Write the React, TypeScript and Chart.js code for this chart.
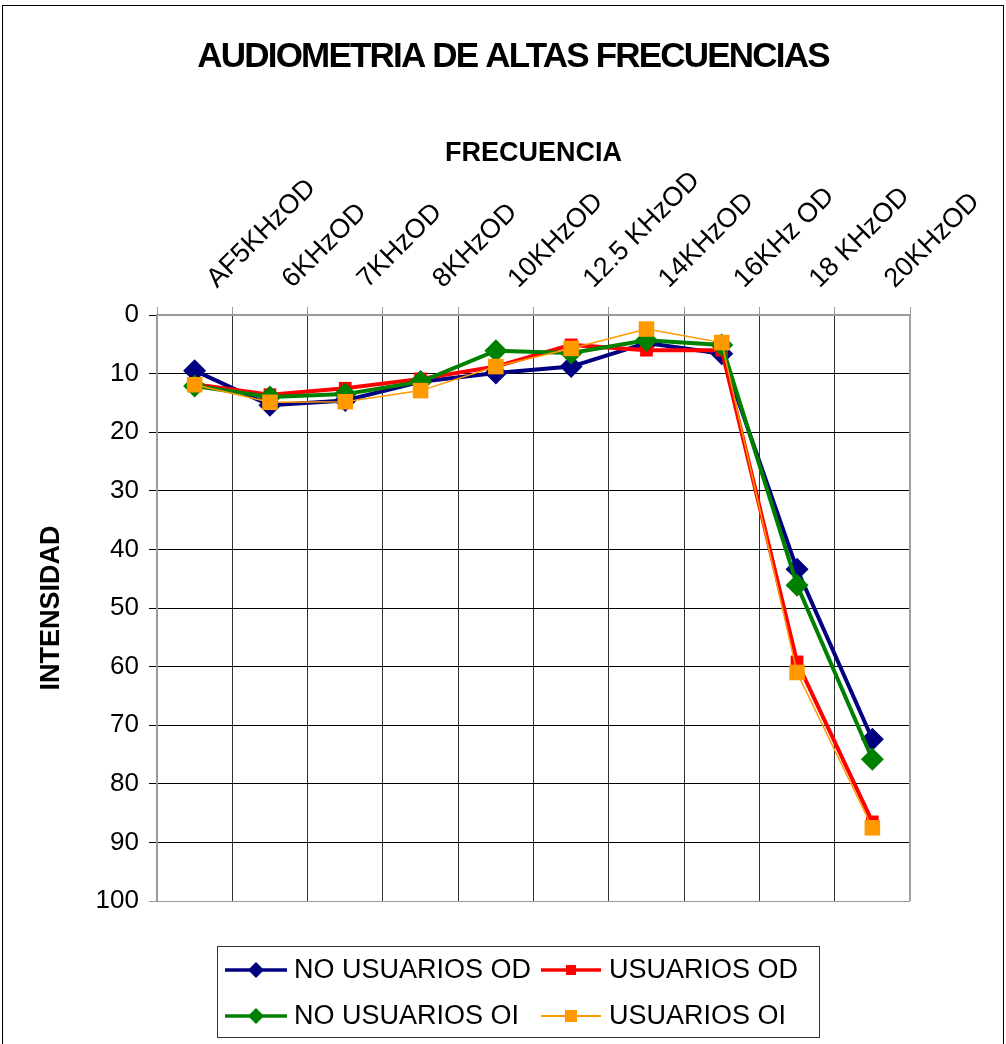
import React, { useEffect, useRef } from 'react';
import { Chart, registerables } from 'chart.js';

Chart.register(...registerables);

// Frecuencias evaluadas (eje X, arriba)
const frecuencias = [
  'AF5KHzOD',
  '6KHzOD',
  '7KHzOD',
  '8KHzOD',
  '10KHzOD',
  '12.5 KHzOD',
  '14KHzOD',
  '16KHz OD',
  '18 KHzOD',
  '20KHzOD',
];

// Umbrales medios (dB) por grupo y oído
const noUsuariosOD = [9.5, 15.4, 14.6, 11.4, 9.9, 8.8, 4.8, 6.6, 43.4, 72.4];
const usuariosOD = [11.8, 13.6, 12.5, 10.9, 8.8, 5.1, 6.0, 6.0, 59.2, 86.5];
const noUsuariosOI = [12.1, 14.0, 13.5, 11.4, 6.1, 6.5, 4.3, 5.1, 46.1, 75.8];
const usuariosOI = [11.9, 14.9, 14.8, 12.9, 8.8, 5.7, 2.4, 4.7, 61.0, 87.5];

// Escala de intensidad
const intensidadMin = 0;
const intensidadMax = 100;
const intensidadPaso = 10;

const TITULO = 'AUDIOMETRIA DE ALTAS FRECUENCIAS';
const FONT = "'Liberation Sans', Arial, Helvetica, sans-serif";

const W = 1006;
const H = 1044;
const PLOT = { left: 157, right: 910, top: 315, bottom: 901 };
const TITLE_SPACE = 90;

type Serie = {
  label: string;
  data: number[];
  color: string;
  width: number;
  style: 'rectRot' | 'rect';
  radius: number;
  legendSize: number;
  order: number;
};

const series: Serie[] = [
  { label: 'NO USUARIOS OD', data: noUsuariosOD, color: '#000080', width: 4, style: 'rectRot', radius: 11.5, legendSize: 8, order: 3 },
  { label: 'USUARIOS OD', data: usuariosOD, color: '#FF0000', width: 4, style: 'rect', radius: 9, legendSize: 5, order: 2 },
  { label: 'NO USUARIOS OI', data: noUsuariosOI, color: '#008000', width: 4, style: 'rectRot', radius: 11.5, legendSize: 8, order: 1 },
  { label: 'USUARIOS OI', data: usuariosOI, color: '#FF9900', width: 1.5, style: 'rect', radius: 11, legendSize: 6, order: 0 },
];

function marker(ctx: CanvasRenderingContext2D, style: string, x: number, y: number, r: number) {
  ctx.beginPath();
  if (style === 'rectRot') {
    ctx.moveTo(x, y - r);
    ctx.lineTo(x + r, y);
    ctx.lineTo(x, y + r);
    ctx.lineTo(x - r, y);
    ctx.closePath();
  } else {
    ctx.rect(x - r, y - r, 2 * r, 2 * r);
  }
  ctx.fill();
}

// Marco exterior, borde del área de trazado, título y leyenda
const decorPlugin = {
  id: 'decor',
  beforeDatasetsDraw(chart: any) {
    const { ctx, chartArea } = chart;
    ctx.save();
    ctx.strokeStyle = '#a0a0a0';
    ctx.lineWidth = 2;
    ctx.beginPath();
    ctx.moveTo(chartArea.right, chartArea.top);
    ctx.lineTo(chartArea.right, chartArea.bottom);
    ctx.stroke();
    ctx.restore();
  },
  afterDraw(chart: any) {
    const { ctx } = chart;
    ctx.save();

    // marco del gráfico
    ctx.strokeStyle = '#000';
    ctx.lineWidth = 1;
    ctx.strokeRect(2.5, 5.5, 1001, 1060);

    // título
    ctx.fillStyle = '#000';
    ctx.font = `bold 35px ${FONT}`;
    ctx.textAlign = 'center';
    ctx.textBaseline = 'middle';
    (ctx as any).letterSpacing = '-1.8px';
    ctx.fillText(TITULO, 513, 57);
    (ctx as any).letterSpacing = '0px';

    // leyenda
    const box = { x: 217.5, y: 946.5, w: 602, h: 91 };
    ctx.strokeStyle = '#333';
    ctx.lineWidth = 1;
    ctx.strokeRect(box.x, box.y, box.w, box.h);

    const cols = [
      { x0: 225, x1: 287, text: 294 },
      { x0: 541, x1: 601, text: 609 },
    ];
    const rows = [970, 1016];
    ctx.font = `27px ${FONT}`;
    ctx.textAlign = 'left';
    ctx.textBaseline = 'middle';
    chart.data.datasets.forEach((ds: any, i: number) => {
      const c = cols[i % 2];
      const y = rows[Math.floor(i / 2)];
      const s = series[i];
      ctx.strokeStyle = ds.borderColor;
      ctx.lineWidth = s.width === 1.5 ? 2 : 3.5;
      ctx.beginPath();
      ctx.moveTo(c.x0, y);
      ctx.lineTo(c.x1, y);
      ctx.stroke();
      ctx.fillStyle = ds.borderColor;
      marker(ctx, s.style, (c.x0 + c.x1) / 2, y, s.legendSize);
      ctx.fillStyle = '#000';
      ctx.fillText(ds.label, c.text, y + 1);
    });

    ctx.restore();
  },
};

export default function App() {
  const canvasRef = useRef<HTMLCanvasElement | null>(null);

  useEffect(() => {
    const canvas = canvasRef.current;
    if (!canvas) return;

    const chart = new Chart(canvas, {
      type: 'line',
      data: {
        labels: frecuencias,
        datasets: series.map((s) => ({
          label: s.label,
          data: s.data,
          borderColor: s.color,
          backgroundColor: s.color,
          borderWidth: s.width,
          pointStyle: s.style,
          pointRadius: s.radius,
          pointBorderWidth: 0,
          pointBackgroundColor: s.color,
          tension: 0,
          order: s.order,
        })),
      },
      options: {
        responsive: false,
        animation: false,
        events: [],
        layout: {
          padding: { top: TITLE_SPACE, left: 0, right: W - PLOT.right, bottom: H - PLOT.bottom },
        },
        plugins: {
          legend: { display: false },
          title: { display: false },
          tooltip: { enabled: false },
        },
        scales: {
          x: {
            type: 'category',
            position: 'top',
            offset: true,
            grid: {
              offset: true,
              color: (c: any) => (c.index === 0 ? '#999' : '#333'),
              lineWidth: 1,
              tickLength: 8,
              tickColor: '#999',
            },
            border: { color: '#999', width: 2 },
            ticks: {
              autoSkip: false,
              minRotation: 45,
              maxRotation: 45,
              labelOffset: 40,
              padding: 12,
              color: '#000',
              font: { family: FONT, size: 27 },
            },
            title: {
              display: true,
              text: 'FRECUENCIA',
              color: '#000',
              font: { family: FONT, size: 27, weight: 'bold' },
              padding: { top: 47, bottom: 0 },
            },
            afterFit: (s: any) => {
              s.height = PLOT.top - TITLE_SPACE;
              s.paddingLeft = 0;
              s.paddingRight = 0;
            },
          },
          y: {
            type: 'linear',
            reverse: true,
            min: intensidadMin,
            max: intensidadMax,
            grid: {
              color: (c: any) => (c.index === 0 ? '#999' : '#000'),
              lineWidth: 1,
              tickLength: 8,
            },
            border: { color: '#999', width: 2 },
            ticks: {
              stepSize: intensidadPaso,
              padding: 10,
              color: '#000',
              font: { family: FONT, size: 26 },
            },
            title: {
              display: true,
              text: 'INTENSIDAD',
              color: '#000',
              font: { family: FONT, size: 27, weight: 'bold' },
              padding: { top: 35, bottom: 0 },
            },
            afterFit: (s: any) => {
              s.width = PLOT.left;
              s.paddingTop = 0;
              s.paddingBottom = 0;
            },
          },
        },
      } as any,
      plugins: [decorPlugin],
    });

    return () => chart.destroy();
  }, []);

  return (
    <div style={{ position: 'absolute', left: 0, top: 0, width: W, height: H, background: '#fff' }}>
      <canvas ref={canvasRef} width={W} height={H} style={{ display: 'block' }} />
    </div>
  );
}
